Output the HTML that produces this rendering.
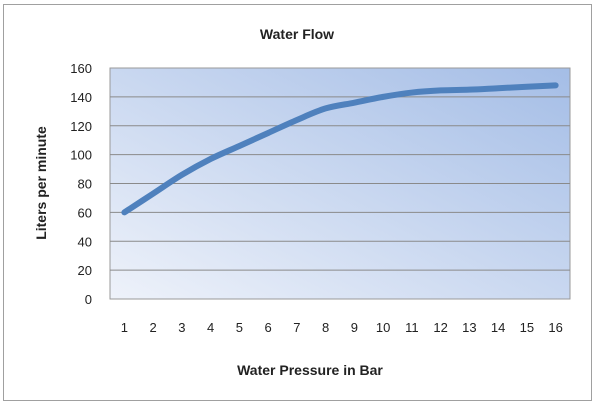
<!DOCTYPE html>
<html><head><meta charset="utf-8"><style>
body{margin:0;background:#fff;}
svg{display:block;font-family:"Liberation Sans",sans-serif;}
</style></head><body>
<svg width="600" height="413">
<defs>
<linearGradient id="bg" x1="0" y1="1" x2="1" y2="0">
<stop offset="0" stop-color="#eef2fa"/><stop offset="1" stop-color="#a4bde6"/>
</linearGradient>
</defs>
<rect x="3.5" y="4.5" width="588" height="396" fill="#fff" stroke="#a0a0a0"/>
<text x="297" y="39" text-anchor="middle" font-weight="bold" font-size="14" fill="#222">Water Flow</text>
<rect x="110" y="68" width="460" height="231" fill="url(#bg)" stroke="#999"/>
<g id="grid"></g><g id="yt"></g><g id="xt"></g>
<path id="line" fill="none" stroke="#4f81bd" stroke-width="6" stroke-linecap="round" stroke-linejoin="round"/>
<text transform="translate(46,183) rotate(-90)" text-anchor="middle" font-weight="bold" font-size="14" fill="#222">Liters per minute</text>
<text x="310" y="375" text-anchor="middle" font-weight="bold" font-size="14" fill="#222">Water Pressure in Bar</text>
</svg>
<script>
const categories=[1,2,3,4,5,6,7,8,9,10,11,12,13,14,15,16];
const flow=[60,73,86,97,106,115,124,132,136,140,143,144.5,145,146,147,148];
const yTicks=[0,20,40,60,80,100,120,140,160];
const L=110,R=570,T=68,B=299,YMAX=160;
const ns="http://www.w3.org/2000/svg";
const xs=i=>L+(i+0.5)*(R-L)/categories.length;
const ys=v=>B-v/YMAX*(B-T);
const grid=document.getElementById('grid'),yt=document.getElementById('yt'),xt=document.getElementById('xt');
yTicks.forEach(v=>{
 if(v>0&&v<YMAX){const l=document.createElementNS(ns,'line');
 l.setAttribute('x1',L);l.setAttribute('x2',R);l.setAttribute('y1',ys(v));l.setAttribute('y2',ys(v));
 l.setAttribute('stroke','#8a8a8a');l.setAttribute('stroke-width','1');
 
 
 grid.appendChild(l);}
 const t=document.createElementNS(ns,'text');
 t.setAttribute('x',92);t.setAttribute('y',ys(v)+5);t.setAttribute('text-anchor','end');
 t.setAttribute('font-size','13');t.setAttribute('fill','#222');t.textContent=v;
 
 
 yt.appendChild(t);
});
categories.forEach((c,i)=>{
 const t=document.createElementNS(ns,'text');
 t.setAttribute('x',xs(i));t.setAttribute('y',332);t.setAttribute('text-anchor','middle');
 t.setAttribute('font-size','13');t.setAttribute('fill','#222');t.textContent=c;
 
 
 xt.appendChild(t);
});
const pts=flow.map((v,i)=>[xs(i),ys(v)]);
let d='M'+pts[0][0]+','+pts[0][1];
for(let i=0;i<pts.length-1;i++){
 const p0=pts[i-1]||pts[i],p1=pts[i],p2=pts[i+1],p3=pts[i+2]||p2;
 const c1=[p1[0]+(p2[0]-p0[0])/6,p1[1]+(p2[1]-p0[1])/6];
 const c2=[p2[0]-(p3[0]-p1[0])/6,p2[1]-(p3[1]-p1[1])/6];
 d+=' C'+c1+' '+c2+' '+p2;
}
document.getElementById('line').setAttribute('d',d);
</script>
</body></html>
